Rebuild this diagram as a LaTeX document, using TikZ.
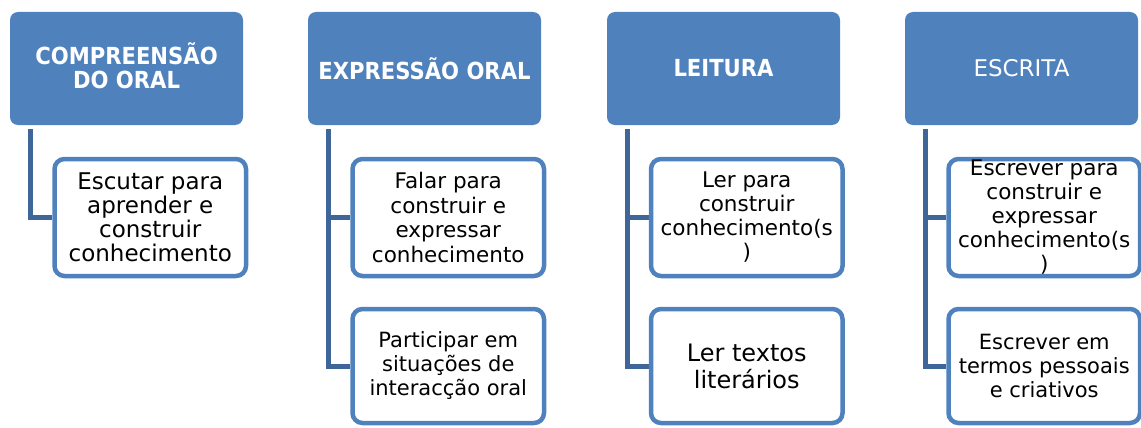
\documentclass[tikz,border=0pt]{standalone}
\usepackage{fontspec}
\setmainfont{DejaVu Sans}
\newfontfamily\hdrfont{DejaVu Sans Condensed}
\usetikzlibrary{backgrounds}
\definecolor{hdrblue}{HTML}{4F81BD}
\definecolor{lineblue}{HTML}{3F6698}
% size, leading, text
\newcommand{\boxtext}[3]{\parbox[c][100pt][c]{188pt}{\centering\fontsize{#1}{#2}\selectfont #3\par}}
\begin{document}
\begin{tikzpicture}[x=1pt,y=-1pt]
    \tikzstyle{hdr}=[rectangle,rounded corners=8pt,fill=hdrblue,text=white,
        minimum width=233pt,minimum height=113pt,inner sep=0pt,align=center,
        font=\hdrfont\fontsize{23.5}{24}\selectfont\bfseries]
    \tikzstyle{item}=[rectangle,rounded corners=10pt,draw=hdrblue,line width=4.5pt,fill=white,
        minimum width=191.5pt,minimum height=117pt,inner sep=0pt]
    \tikzstyle{conn}=[draw=lineblue,line width=5pt]
    \useasboundingbox (0,0) rectangle (1141,428);

    % headers
    \node[hdr] (h1) at (126.5,68.5) {COMPREENSÃO\\DO ORAL\\[-18pt]};
    \node[hdr] (h2) at (424.5,68.5) {EXPRESSÃO ORAL};
    \node[hdr] (h3) at (723.5,68.5) {LEITURA};
    \node[hdr,font=\fontsize{23}{24}\selectfont] (h4) at (1021.5,68.5) {ESCRITA};

    % items
    \node[item] (c1) at (150.25,217.5) {\boxtext{23}{24}{Escutar para\\aprender e\\construir\\conhecimento}};
    \node[item] (c2a) at (448.25,217.5) {\boxtext{21.5}{24.5}{Falar para\\construir e\\expressar\\conhecimento}};
    \node[item,minimum height=114pt] (c2b) at (448.25,366) {\boxtext{21}{24}{Participar em\\situações de\\interacção oral}};
    \node[item] (c3a) at (746.75,217.5) {\boxtext{21.5}{24}{Ler para\\construir\\conhecimento(s\\)}};
    \node[item,minimum height=114pt] (c3b) at (746.75,366) {\boxtext{24}{27}{Ler textos\\literários}};
    \node[item] (c4a) at (1044.25,217.5) {\boxtext{21.5}{24}{Escrever para\\construir e\\expressar\\conhecimento(s\\)}};
    \node[item,minimum height=114pt] (c4b) at (1044.25,366) {\boxtext{21}{24}{Escrever em\\termos pessoais\\e criativos}};

    % connectors
    \begin{pgfonlayer}{background}
    \draw[conn] ([xshift=21pt,yshift=-4pt]h1.south west) |- (c1.west);
    \draw[conn] ([xshift=21pt,yshift=-4pt]h2.south west) |- (c2b.west);
    \draw[conn] ([xshift=21pt,yshift=-4pt]h2.south west) |- (c2a.west);
    \draw[conn] ([xshift=21pt,yshift=-4pt]h3.south west) |- (c3b.west);
    \draw[conn] ([xshift=21pt,yshift=-4pt]h3.south west) |- (c3a.west);
    \draw[conn] ([xshift=21pt,yshift=-4pt]h4.south west) |- (c4b.west);
    \draw[conn] ([xshift=21pt,yshift=-4pt]h4.south west) |- (c4a.west);
    \end{pgfonlayer}
\end{tikzpicture}
\end{document}
